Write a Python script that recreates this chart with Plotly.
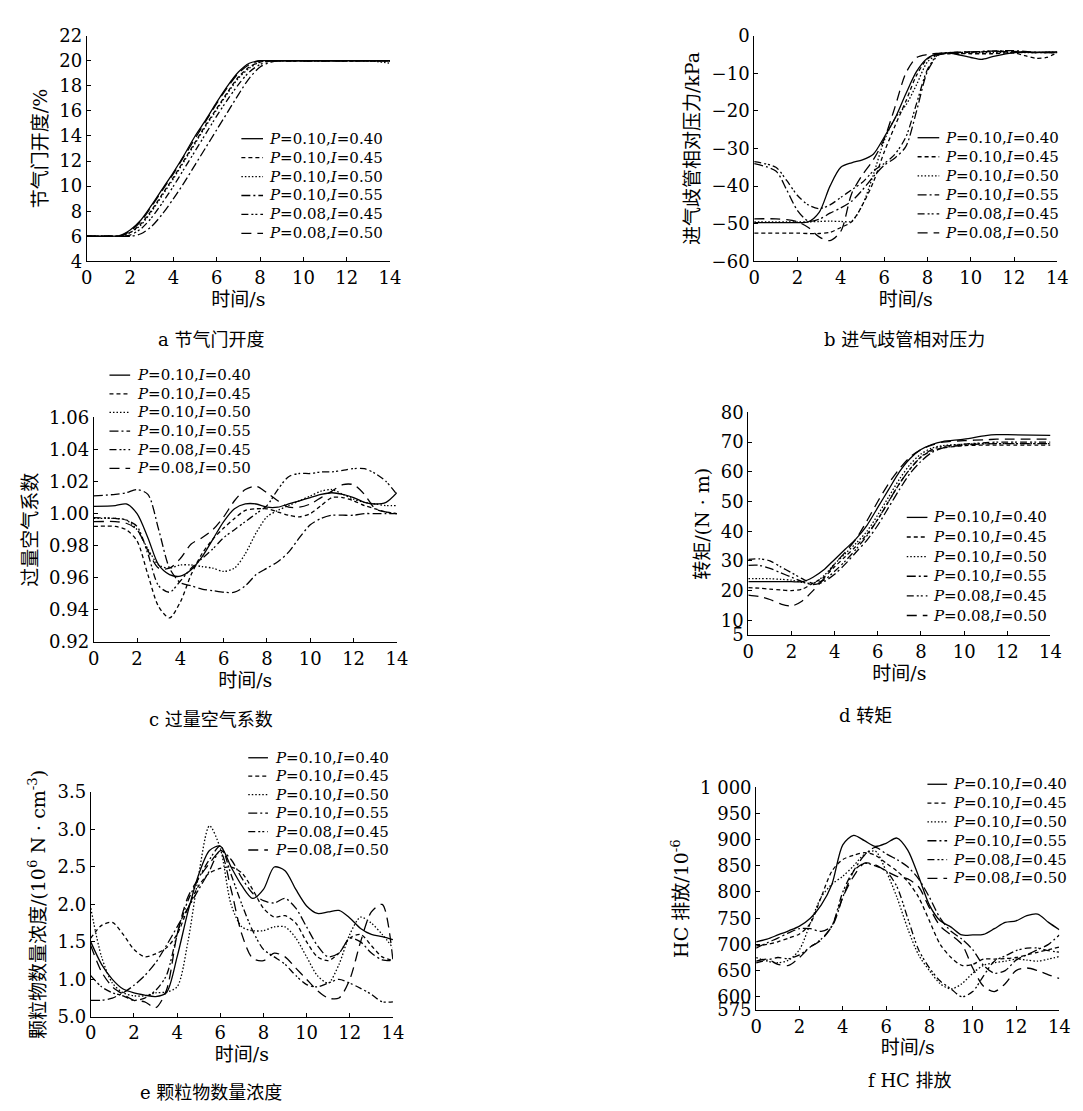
import plotly.graph_objects as go

W, H = 1083, 1111

LABELS = ["<i>P</i>=0.10,<i>I</i>=0.40", "<i>P</i>=0.10,<i>I</i>=0.45",
          "<i>P</i>=0.10,<i>I</i>=0.50", "<i>P</i>=0.10,<i>I</i>=0.55",
          "<i>P</i>=0.08,<i>I</i>=0.45", "<i>P</i>=0.08,<i>I</i>=0.50"]
DASHES = ["solid", "4px,3px", "1.5px,2px", "9px,3px,2px,3px",
          "7px,3px,2px,2px,2px,3px", "10px,6px"]

# ---- a: throttle opening (%) ----
A_X = [0, 1, 1.5, 2, 2.5, 3, 3.5, 4, 4.5, 5, 5.5, 6, 6.5, 7, 7.5, 8, 8.5, 9, 10, 11, 12, 13, 14]
A_S1 = [6, 6, 6.05, 6.5, 7.3, 8.5, 9.8, 11.1, 12.5, 14.0, 15.3, 16.7, 18.0, 19.1, 19.8, 20, 20, 20, 20, 20, 20, 20, 20]
A_S2 = [6, 6, 6, 6.3, 7.0, 8.1, 9.4, 10.7, 12.1, 13.5, 14.9, 16.2, 17.5, 18.7, 19.5, 19.9, 20, 20, 20, 20, 20, 20, 20]
A_S3 = [6, 6, 6, 6.3, 6.9, 8.0, 9.3, 10.6, 12.0, 13.4, 14.8, 16.1, 17.4, 18.6, 19.4, 19.9, 20, 20, 20, 20, 20, 20, 19.8]
A_S4 = [6, 6, 6, 6.0, 6.2, 6.8, 7.8, 9.0, 10.3, 11.7, 13.1, 14.5, 15.9, 17.3, 18.6, 19.5, 19.9, 20, 20, 20, 20, 20, 20]
A_S5 = [6, 6, 6, 6.1, 6.6, 7.5, 8.7, 10.0, 11.4, 12.8, 14.2, 15.6, 16.9, 18.1, 19.1, 19.7, 20, 20, 20, 20, 20, 20, 20]
A_S6 = [6, 6, 6, 6.4, 7.2, 8.4, 9.7, 11.0, 12.4, 13.8, 15.2, 16.6, 17.9, 19.0, 19.7, 20, 20, 20, 20, 20, 20, 20, 20]

# ---- b: intake manifold relative pressure (kPa) ----
B_X = [0, 1, 1.5, 2, 2.5, 3, 3.5, 4, 4.5, 5, 5.5, 6, 6.5, 7, 7.5, 8, 8.5, 9, 10, 10.5, 11, 12, 12.5, 13, 13.5, 14]
B_S1 = [-49.7, -49.7, -49.7, -49.7, -49.5, -47, -40, -35, -33.8, -33, -31.5, -27, -22, -15.5, -9.5, -6, -4.8, -4.6, -5.8, -6.3, -5.6, -4.5, -4.4, -4.4, -4.3, -4.3]
B_S2 = [-52.5, -52.5, -52.5, -52.5, -52.6, -52.6, -52.3, -51, -49.5, -45, -39, -31, -24, -17.5, -10.5, -6.2, -5, -4.8, -4.8, -4.8, -4.8, -4.6, -5.3, -6.0, -5.8, -4.5]
B_S3 = [-49.5, -49.5, -49.5, -49.5, -49.5, -49.4, -49.3, -49.4, -49.3, -45, -37, -28, -22, -18.5, -13, -7, -5, -4.7, -4.6, -4.5, -4.5, -4.5, -4.5, -4.5, -4.4, -4.4]
B_S4 = [-34, -36, -41, -46.5, -49.3, -48.8, -47.2, -45.8, -44, -41, -37.5, -34.5, -32.5, -29.5, -20, -9.5, -5.2, -4.6, -4.4, -4.2, -4.1, -4, -4.2, -4.4, -4.5, -4.5]
B_S5 = [-33.5, -35, -38.5, -42.5, -45, -46, -45, -43, -41, -39, -36, -34, -31.5, -27, -18, -9, -5, -4.5, -4.3, -4.2, -4.1, -4.2, -4.4, -4.5, -4.5, -4.5]
B_S6 = [-48.7, -48.7, -48.9, -49.5, -51, -53.5, -54.5, -52, -42, -37, -33, -27.5, -19, -10, -5.8, -5, -4.7, -4.5, -4.3, -4.3, -4.2, -4.3, -4.4, -4.5, -4.5, -4.5]

# ---- c: excess air coefficient ----
C_X = [0, 1, 1.5, 2, 2.5, 3, 3.5, 4, 4.5, 5, 5.5, 6, 6.5, 7, 7.5, 8, 8.5, 9, 9.5, 10, 10.5, 11, 11.5, 12, 12.5, 13, 13.5, 14]
C_S1 = [1.0045, 1.005, 1.006, 1.000, 0.985, 0.968, 0.962, 0.961, 0.965, 0.973, 0.984, 0.995, 1.003, 1.006, 1.006, 1.004, 1.004, 1.006, 1.008, 1.010, 1.012, 1.013, 1.012, 1.010, 1.007, 1.006, 1.007, 1.013]
C_S2 = [0.992, 0.992, 0.990, 0.983, 0.962, 0.942, 0.935, 0.945, 0.962, 0.975, 0.984, 0.991, 0.997, 1.002, 1.003, 1.003, 1.001, 0.999, 0.998, 1.000, 1.005, 1.010, 1.010, 1.008, 1.005, 1.003, 1.001, 1.000]
C_S3 = [0.997, 0.997, 0.996, 0.990, 0.978, 0.968, 0.966, 0.968, 0.968, 0.967, 0.966, 0.964, 0.966, 0.975, 0.988, 0.998, 1.002, 1.005, 1.008, 1.011, 1.014, 1.015, 1.012, 1.009, 1.007, 1.006, 1.005, 1.005]
C_S4 = [1.011, 1.012, 1.013, 1.015, 1.012, 0.990, 0.966, 0.957, 0.955, 0.953, 0.952, 0.951, 0.951, 0.955, 0.962, 0.966, 0.970, 0.976, 0.985, 0.993, 0.997, 0.999, 0.999, 0.999, 1.000, 1.000, 1.000, 1.000]
C_S5 = [0.9975, 0.997, 0.996, 0.992, 0.975, 0.955, 0.951, 0.958, 0.966, 0.972, 0.978, 0.985, 0.990, 0.995, 1.000, 1.005, 1.015, 1.023, 1.025, 1.025, 1.026, 1.026, 1.027, 1.028, 1.028, 1.025, 1.020, 1.012]
C_S6 = [0.995, 0.995, 0.994, 0.990, 0.977, 0.966, 0.966, 0.972, 0.981, 0.985, 0.990, 0.998, 1.008, 1.015, 1.017, 1.013, 1.008, 1.004, 1.004, 1.006, 1.010, 1.014, 1.018, 1.018, 1.012, 1.003, 1.001, 1.000]

# ---- d: torque (N·m) ----
D_X = [0, 0.5, 1, 1.5, 2, 2.5, 3, 3.5, 4, 4.5, 5, 5.5, 6, 6.5, 7, 7.5, 8, 8.5, 9, 10, 11, 11.5, 12, 14]
D_S1 = [23, 23, 23, 23, 23, 23, 24.5, 27, 30.5, 34, 37.5, 42, 48, 54, 60, 64.5, 67.5, 69.2, 70.2, 71, 72.2, 72.5, 72.5, 72.3]
D_S2 = [21, 20.8, 20.5, 20.2, 20, 20.5, 22.5, 24.5, 28, 31.5, 35, 39, 44, 50, 56, 61, 65, 67, 68, 68.8, 69, 69, 69, 69]
D_S3 = [24, 24, 24, 23.8, 23.5, 22.8, 22.5, 25, 29, 32.5, 36, 40, 45.5, 51.5, 57.5, 62.5, 66, 68, 68.8, 69.3, 69.5, 69.5, 69.5, 69.5]
D_S4 = [28.5, 28.5, 27.5, 26, 24.5, 23, 22, 23, 25.5, 29, 33, 37, 42, 48, 54, 59.5, 63.5, 66.5, 68, 69, 69.4, 69.5, 69.5, 69.5]
D_S5 = [30.5, 30.7, 30, 28, 26, 24, 22.5, 23.5, 26.5, 30, 34, 38.5, 44, 50, 56, 61, 65, 67.5, 68.5, 69.3, 69.8, 70, 70, 70]
D_S6 = [18.5, 18, 17, 15.5, 14.8, 16.5, 20, 24, 29, 33, 37.5, 43.5, 50, 56, 61, 65, 67.5, 69, 70, 70.5, 70.8, 71, 71, 71]

# ---- e: particle number concentration (10^6 N·cm^-3) ----
E_X = [0, 0.5, 1, 1.5, 2, 2.5, 3, 3.5, 4, 4.5, 5, 5.5, 6, 6.5, 7, 7.5, 8, 8.5, 9, 9.5, 10, 10.5, 11, 11.5, 12, 12.5, 13, 13.5, 14]
E_S1 = [1.5, 1.2, 1.0, 0.87, 0.82, 0.79, 0.77, 0.82, 1.3, 1.9, 2.4, 2.72, 2.78, 2.5, 2.25, 2.08, 2.2, 2.5, 2.45, 2.2, 1.98, 1.88, 1.9, 1.92, 1.82, 1.68, 1.6, 1.57, 1.53]
E_S2 = [1.55, 1.72, 1.76, 1.6, 1.4, 1.3, 1.34, 1.42, 1.6, 1.95, 2.25, 2.42, 2.48, 2.5, 2.42, 2.2, 1.95, 1.83, 1.85, 1.75, 1.5, 1.3, 1.25, 1.35, 1.55, 1.6, 1.45, 1.3, 1.25]
E_S3 = [1.95, 1.3, 0.95, 0.82, 0.78, 0.78, 0.82, 0.83, 0.9, 1.5, 2.4, 3.05, 2.75, 2.0, 1.7, 1.65, 1.65, 1.7, 1.7, 1.55, 1.3, 1.05, 0.95, 1.2, 1.6, 1.83, 1.75, 1.6, 1.42]
E_S4 = [0.72, 0.72, 0.75, 0.82, 0.92, 1.05, 1.22, 1.45, 1.7, 1.95, 2.2, 2.45, 2.72, 2.6, 2.35, 2.15, 2.05, 2.02, 2.08, 1.95, 1.7, 1.45, 1.3, 1.35, 1.55, 1.5, 1.35, 1.26, 1.25]
E_S5 = [1.05, 0.9, 0.82, 0.78, 0.72, 0.75, 0.85, 1.05, 1.6, 2.05, 2.35, 2.6, 2.78, 2.4, 2.0, 1.65, 1.4, 1.3, 1.2, 1.05, 0.93, 0.9, 0.95, 1.0, 0.95, 0.88, 0.8, 0.7, 0.7]
E_S6 = [1.45, 1.1, 0.9, 0.8, 0.72, 0.7, 0.62, 0.85, 1.6, 2.1, 2.35, 2.55, 2.7, 2.2, 1.6, 1.28, 1.25, 1.35, 1.3, 1.15, 1.0, 0.85, 0.75, 0.75, 1.0, 1.5, 1.9, 2.0, 1.25]

# ---- f: HC emission (10^-6) ----
F_X = [0, 0.5, 1, 1.5, 2, 2.5, 3, 3.5, 4, 4.5, 5, 5.5, 6, 6.5, 7, 7.5, 8, 8.5, 9, 9.5, 10, 10.5, 11, 11.5, 12, 12.5, 13, 13.5, 14]
F_S1 = [705, 710, 718, 726, 735, 750, 775, 815, 890, 908, 898, 887, 893, 903, 880, 830, 775, 745, 733, 718, 718, 719, 730, 742, 745, 755, 758, 742, 728]
F_S2 = [697, 700, 705, 712, 720, 740, 790, 840, 862, 870, 875, 870, 855, 840, 820, 790, 745, 700, 675, 660, 662, 672, 672, 673, 675, 680, 685, 690, 695]
F_S3 = [675, 668, 665, 670, 690, 740, 790, 815, 830, 850, 872, 878, 840, 790, 730, 680, 650, 625, 615, 625, 645, 660, 665, 668, 672, 670, 668, 672, 677]
F_S4 = [693, 703, 712, 722, 730, 730, 725, 735, 790, 840, 870, 885, 873, 862, 848, 825, 790, 750, 725, 710, 690, 660, 645, 650, 670, 680, 690, 700, 718]
F_S5 = [665, 670, 675, 673, 680, 695, 710, 735, 800, 840, 855, 850, 840, 810, 750, 690, 655, 630, 615, 600, 610, 640, 668, 678, 688, 693, 693, 688, 685]
F_S6 = [668, 672, 662, 660, 675, 695, 708, 735, 790, 830, 855, 852, 840, 830, 825, 810, 770, 735, 718, 700, 655, 620, 610, 625, 650, 655, 650, 642, 635]

SERIF = "DejaVu Serif, Noto Sans CJK SC, serif"


def px(x):
    return x / W


def py(y):
    return 1 - y / H


def dx(l, r):
    return [px(l), px(r)]


def dy(t, b):
    return [py(b), py(t)]


# legend geometry per panel: (sample x0, sample x1, text x, first row y, row step)
panels = [
    dict(x=A_X, ys=[A_S1, A_S2, A_S3, A_S4, A_S5, A_S6], xd=dx(74, 382), yd=dy(17, 247),
         yr=[4, 22], ytv=list(range(4, 23, 2)), ytt=None, ytitle="节气门开度/%",
         leg=(231, 253, 257, 122, 19.3), cap=("a 节气门开度", 200, 327)),
    dict(x=B_X, ys=[B_S1, B_S2, B_S3, B_S4, B_S5, B_S6], xd=dx(752, 1060), yd=dy(17, 247),
         yr=[-60, 0], ytv=list(range(-60, 1, 10)),
         ytt=["\u221260", "\u221250", "\u221240", "\u221230", "\u221220", "\u221210", "0"],
         ytitle="进气歧管相对压力/kPa", leg=(918, 940, 944, 121, 19.4), cap=("b 进气歧管相对压力", 905, 327)),
    dict(x=C_X, ys=[C_S1, C_S2, C_S3, C_S4, C_S5, C_S6], xd=dx(81, 389), yd=dy(406, 635),
         yr=[0.92, 1.06], ytv=[0.92, 0.94, 0.96, 0.98, 1.00, 1.02, 1.04, 1.06],
         ytt=["0.92", "0.94", "0.96", "0.98", "1.00", "1.02", "1.04", "1.06"],
         ytitle="过量空气系数", leg=(97, 118, 123, 363, 19.0), cap=("c 过量空气系数", 200, 714)),
    dict(x=D_X, ys=[D_S1, D_S2, D_S3, D_S4, D_S5, D_S6], xd=dx(746, 1053), yd=dy(401, 628),
         yr=[5, 80], ytv=[5, 10, 20, 30, 40, 50, 60, 70, 80], ytt=None,
         ytitle="转矩/(N · m)", leg=(907, 928, 932, 508, 20.0), cap=("d 转矩", 865, 710)),
    dict(x=E_X, ys=[E_S1, E_S2, E_S3, E_S4, E_S5, E_S6], xd=dx(78, 385), yd=dy(788, 1017),
         yr=[0.5, 3.5], ytv=[0.5, 1.0, 1.5, 2.0, 2.5, 3.0, 3.5],
         ytt=["5.0", "1.0", "1.5", "2.0", "2.5", "3.0", "3.5"],
         ytitle="颗粒物数量浓度/(10<sup>6</sup> N · cm<sup>-3</sup>)",
         leg=(238, 258, 263, 753, 18.8), cap=("e 颗粒物数量浓度", 200, 1094)),
    dict(x=F_X, ys=[F_S1, F_S2, F_S3, F_S4, F_S5, F_S6], xd=dx(754, 1062), yd=dy(783, 1010),
         yr=[575, 1000], ytv=[575, 600, 650, 700, 750, 800, 850, 900, 950, 1000],
         ytt=["575", "600", "650", "700", "750", "800", "850", "900", "950", "1 000"],
         ytitle="HC 排放/10<sup>-6</sup>", leg=(928, 948, 952, 780, 19.2), cap=("f HC 排放", 910, 1082)),
]

fig = go.Figure()
layout = dict(width=W, height=H, margin=dict(l=0, r=0, t=0, b=0),
              paper_bgcolor="white", plot_bgcolor="white", showlegend=False,
              font=dict(family=SERIF, size=18, color="black"))
annotations = []
shapes = []

for i, p in enumerate(panels):
    n = i + 1
    xa = "x" if n == 1 else f"x{n}"
    ya = "y" if n == 1 else f"y{n}"
    for k, yv in enumerate(p["ys"]):
        fig.add_trace(go.Scatter(
            x=p["x"], y=yv, mode="lines", name=LABELS[k], xaxis=xa, yaxis=ya,
            line=dict(color="black", width=1.3, dash=DASHES[k], shape="spline", smoothing=0.8)))
    axis_common = dict(showline=True, linecolor="black", linewidth=1, ticks="inside", ticklen=4,
                       tickcolor="black", showgrid=False, zeroline=False, mirror=False,
                       tickfont=dict(family=SERIF, size=18, color="black"))
    layout["xaxis" if n == 1 else f"xaxis{n}"] = dict(
        domain=p["xd"], range=[0, 14], tickvals=list(range(0, 15, 2)), anchor=ya,
        title=dict(text="时间/s", font=dict(family=SERIF, size=19), standoff=2), **axis_common)
    yax = dict(domain=p["yd"], range=p["yr"], tickvals=p["ytv"], anchor=xa,
               title=dict(text=p["ytitle"], font=dict(family=SERIF, size=19), standoff=6), **axis_common)
    if p["ytt"] is not None:
        yax["ticktext"] = p["ytt"]
    layout["yaxis" if n == 1 else f"yaxis{n}"] = yax

    sx0, sx1, tx, ty0, step = p["leg"]
    for k in range(6):
        yy = ty0 + k * step
        shapes.append(dict(type="line", xref="paper", yref="paper",
                           x0=px(sx0), x1=px(sx1), y0=py(yy), y1=py(yy),
                           line=dict(color="black", width=1.3, dash=DASHES[k])))
        annotations.append(dict(text=LABELS[k], x=px(tx), y=py(yy), xref="paper", yref="paper",
                                showarrow=False, xanchor="left", yanchor="middle",
                                font=dict(family=SERIF, size=15, color="black")))
    text, cx, cy = p["cap"]
    annotations.append(dict(text=text, x=px(cx), y=py(cy), xref="paper", yref="paper",
                            showarrow=False, xanchor="center", yanchor="middle",
                            font=dict(family=SERIF, size=18, color="black")))

layout["annotations"] = annotations
layout["shapes"] = shapes
fig.update_layout(**layout)
fig.write_html("out.html")
